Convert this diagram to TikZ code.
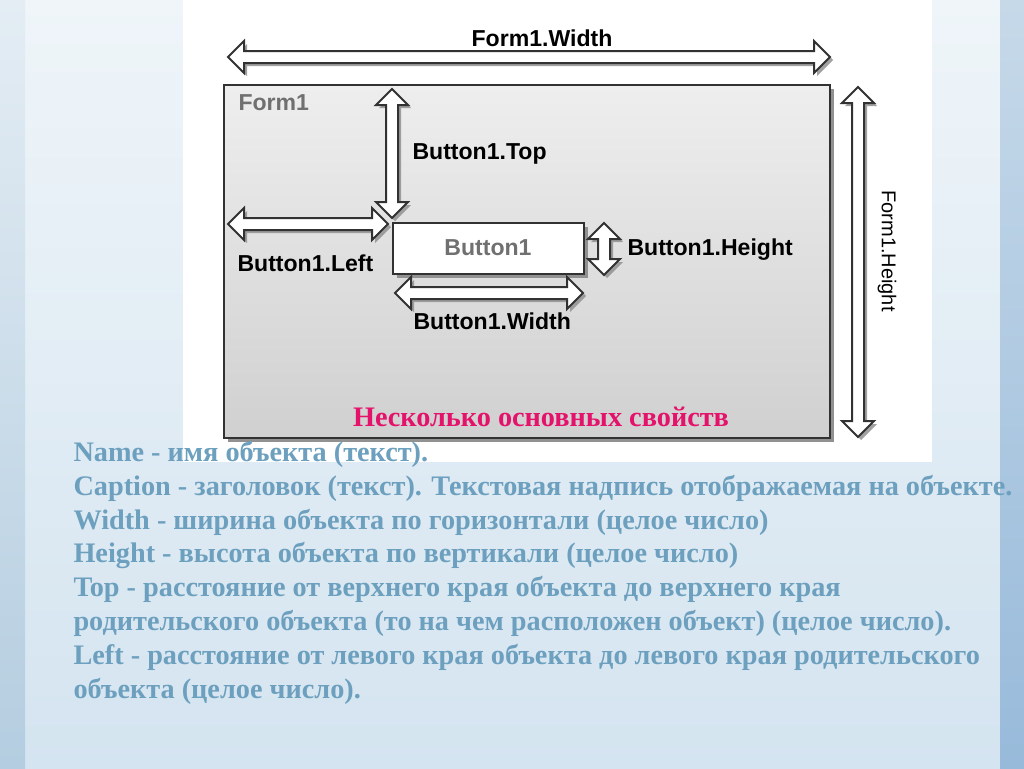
\documentclass[tikz,border=0pt]{standalone}
\usepackage{fontspec}
\setmainfont{Liberation Serif}
\newfontfamily\arialfont{Liberation Sans}
\usetikzlibrary{positioning}

\definecolor{propblue}{RGB}{108,160,190}
\definecolor{propred}{RGB}{228,18,106}
\definecolor{edgegray}{RGB}{50,50,50}
\definecolor{shadegray}{RGB}{145,145,145}
\definecolor{captiongray}{RGB}{112,112,112}

\tikzset{every picture/.style={line width=0.75pt}}
\tikzset{
  hollow/.style={draw=edgegray, line width=1.5, fill=white, line join=miter},
  hollowshadow/.style={fill=shadegray, opacity=0.85},
  dimlabel/.style={inner sep=0.75pt, font=\arialfont\bfseries\fontsize{17.3}{20}\selectfont},
  proptext/.style={anchor=base west, inner sep=0.75pt, text=propblue, font=\bfseries\fontsize{21.2}{25}\selectfont}
}

% hollow double arrow: start x, start y, length, angle
\newcommand{\hollowarrow}[4]{%
  \foreach \dx/\sty in {3/hollowshadow,0/hollow}{%
    \path[\sty, shift={(#1+\dx,#2+\dx)}, rotate=#4]
      (0,0) -- (16,-16) -- (16,-6) -- (#3-16,-6) -- (#3-16,-16) -- (#3,0)
      -- (#3-16,16) -- (#3-16,6) -- (16,6) -- (16,16) -- cycle;}}

\begin{document}
\begin{tikzpicture}[x=0.75pt,y=0.75pt,yscale=-1,xscale=1]

% slide background
\useasboundingbox (0,0) rectangle (1024,768);
\shade [top color={rgb,255:red,239;green,245;blue,249}, bottom color={rgb,255:red,212;green,228;blue,240}] (0,0) rectangle (1024,768);
\shade [top color={rgb,255:red,228;green,237;blue,244}, bottom color={rgb,255:red,180;green,205;blue,224}] (0,0) rectangle (25,768);
\shade [top color={rgb,255:red,198;green,217;blue,233}, bottom color={rgb,255:red,152;green,186;blue,218}] (1000,0) rectangle (1024,768);
\fill [white] (183,0) rectangle (932,462);

% form and button
\fill [shadegray] (228,89) rectangle (834,442);
\shade [draw=edgegray, line width=1.5, top color={rgb,255:red,238;green,238;blue,238}, bottom color={rgb,255:red,208;green,208;blue,208}] (224,85) rectangle (830,438);
\fill [shadegray] (397,227) rectangle (588,278);
\draw [edgegray, line width=1.5, fill=white] (393,223) rectangle (584,274);

% dimension arrows
\hollowarrow{228}{57}{602}{0}
\hollowarrow{858}{87}{350}{90}
\hollowarrow{392}{89}{129}{90}
\hollowarrow{228}{224}{160}{0}
\hollowarrow{604}{223}{52}{90}
\hollowarrow{395}{293}{188}{0}

\node (formname) [dimlabel, text=captiongray, anchor=west] at (237,103) {Form1};
\node (buttonname) [dimlabel, text=captiongray] at (488,248) {Button1};
\node (formwidth) [dimlabel] at (542,38) {Form1.Width};
\node (formheight) [inner sep=0.75pt, font=\arialfont\fontsize{15}{18}\selectfont, rotate=-90] at (887,251) {Form1.Height};
\node (btntop) [dimlabel, anchor=west] at (411,154) {Button1.Top};
\node (btnleft) [dimlabel, anchor=west] at (236,263) {Button1.Left};
\node (btnheight) [dimlabel, anchor=west] at (626,250) {Button1.Height};
\node (btnwidth) [dimlabel, anchor=west] at (412,321) {Button1.Width};

\node (title) [anchor=base, inner sep=0.75pt, text=propred, font=\bfseries\fontsize{21.2}{25}\selectfont] at (541,426) {Несколько основных свойств};

% property list
\node (pname) [proptext] at (72,461) {Name - имя объекта (текст).};
\node (pcaption) [proptext] at (72,495) {Caption - заголовок (текст). Текстовая надпись отображаемая на объекте.};
\node (pwidth) [proptext] at (72,529) {Width - ширина объекта по горизонтали (целое число)};
\node (pheight) [proptext] at (72,562) {Height - высота объекта по вертикали (целое число)};
\node (ptop) [proptext] at (72,596) {Top - расстояние от верхнего края объекта до верхнего края};
\node (ptopb) [proptext] at (72,630) {родительского объекта (то на чем расположен объект) (целое число).};
\node (pleft) [proptext] at (72,664) {Left - расстояние от левого края объекта до левого края родительского};
\node (pleftb) [proptext] at (72,698) {объекта (целое число).};

\end{tikzpicture}
\end{document}
